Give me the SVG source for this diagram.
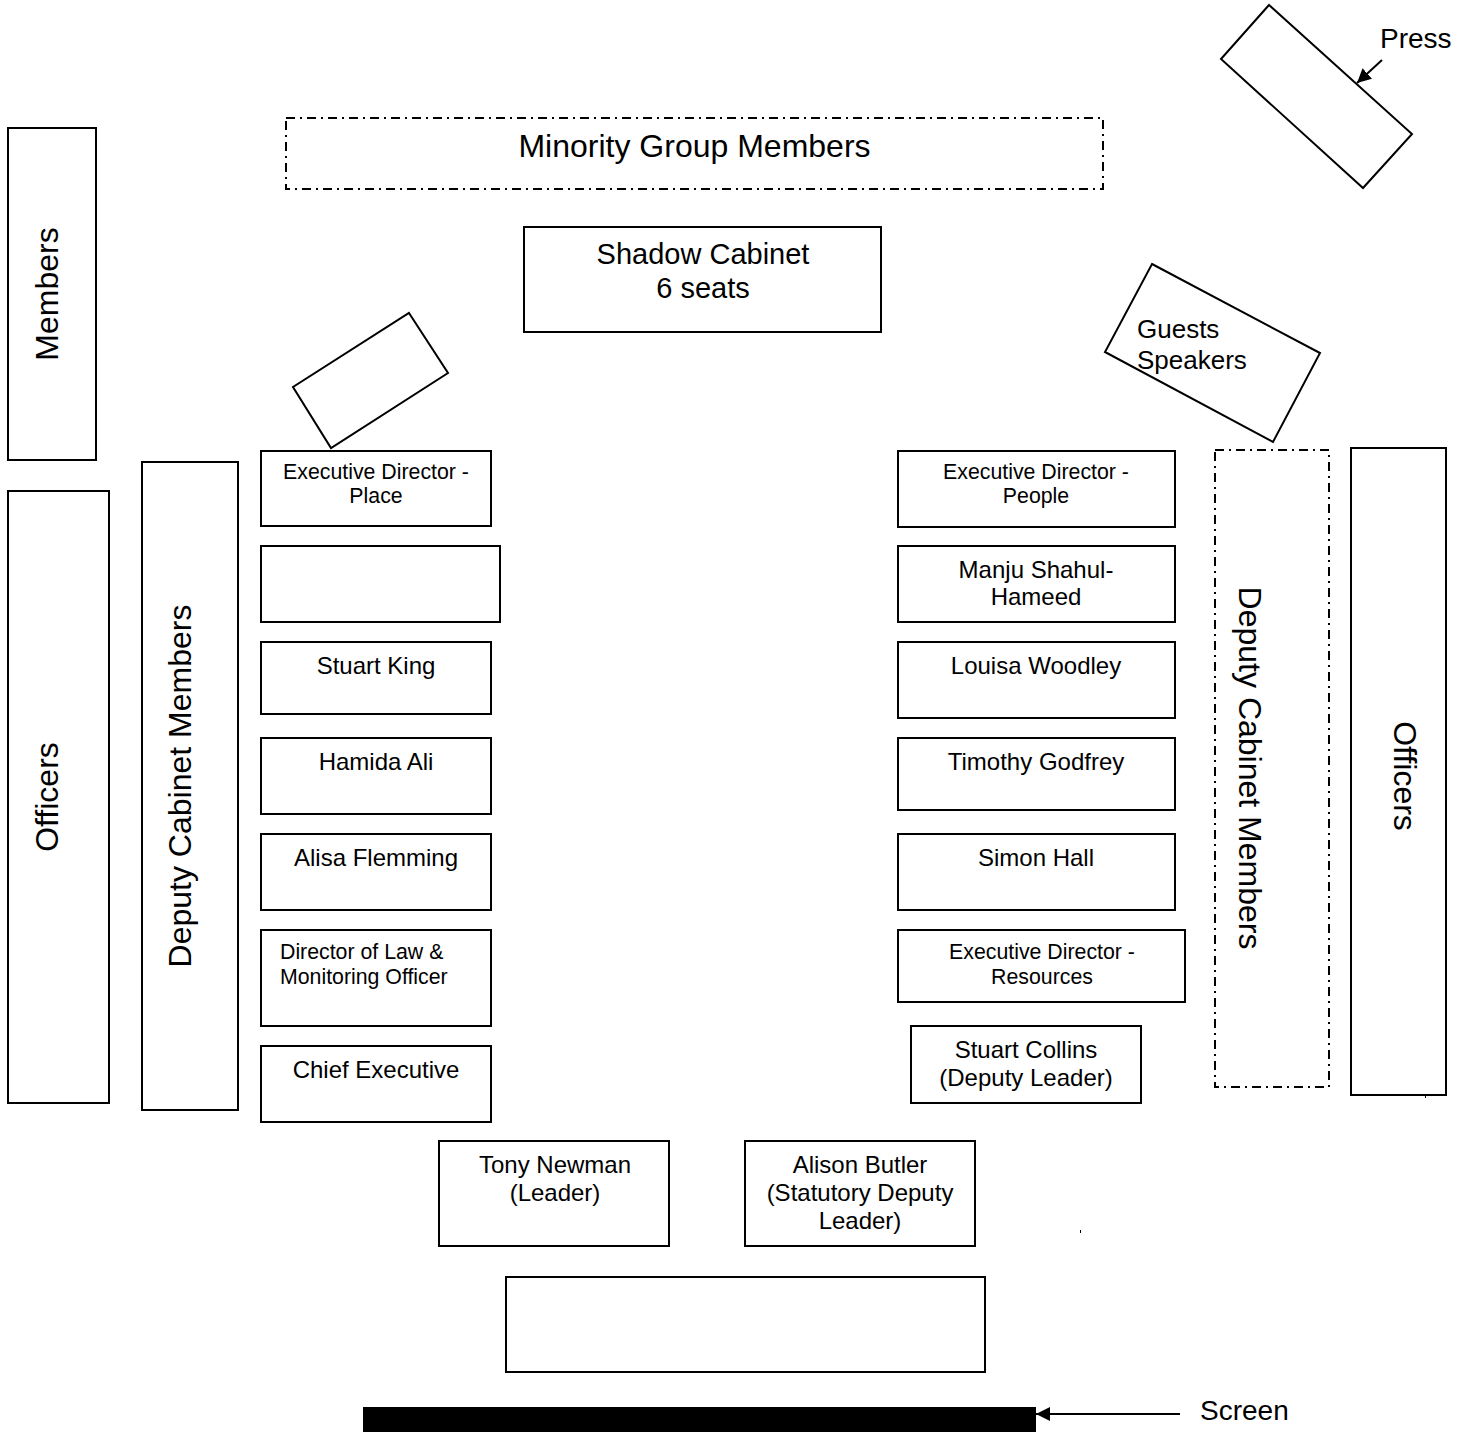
<svg xmlns="http://www.w3.org/2000/svg" width="1472" height="1432" viewBox="0 0 1472 1432">
<style>
.box{fill:#fff;stroke:#000;stroke-width:2}
.dash{fill:none;stroke:#000;stroke-width:2;stroke-dasharray:9,5,2,5}
text{font-family:"Liberation Sans",Arial,sans-serif;fill:#000}
.t32{font-size:32px}
.t29{font-size:29px}
.t28{font-size:28px}
.t26{font-size:26px}
.t24{font-size:24px}
.t21{font-size:21.3px}
.c{text-anchor:middle}
.conn{stroke:#000;stroke-width:2;fill:none}
</style>
<defs>
<marker id="ah" markerUnits="userSpaceOnUse" markerWidth="16" markerHeight="14" refX="14" refY="7" orient="auto">
<path d="M0,0 L14,7 L0,14 Z" fill="#000"/>
</marker>
</defs>
<rect width="1472" height="1432" fill="#fff"/>

<g id="press">
<polygon class="box" points="1269,5 1412,134 1363,188 1221,59"/>
<text class="t28" x="1380" y="48">Press</text>
</g>
<g id="minority">
<rect class="dash" x="286" y="118" width="817" height="71"/>
<text class="t32 c" x="694.5" y="157">Minority Group Members</text>
</g>
<g id="shadow">
<rect class="box" x="524" y="227" width="357" height="105"/>
<text class="t29 c" x="703" y="264">Shadow Cabinet</text>
<text class="t29 c" x="703" y="298">6 seats</text>
</g>
<g id="members">
<rect class="box" x="8" y="128" width="88" height="332"/>
<text class="t32 c" transform="translate(47,294) rotate(-90)" x="0" y="11">Members</text>
</g>
<g id="officers-left">
<rect class="box" x="8" y="491" width="101" height="612"/>
<text class="t32 c" transform="translate(47,797) rotate(-90)" x="0" y="11">Officers</text>
</g>
<g id="deputy-left">
<rect class="box" x="142" y="462" width="96" height="648"/>
<text class="t32 c" transform="translate(180,786) rotate(-90)" x="0" y="11">Deputy Cabinet Members</text>
</g>
<g id="left-angled">
<polygon class="box" points="409,313 448,373 331,448 293,387"/>
</g>
<g id="guests">
<polygon class="box" points="1152,264 1320,353 1273,442 1105,352"/>
<text class="t26" x="1137" y="338">Guests</text>
<text class="t26" x="1137" y="369">Speakers</text>
</g>
<g id="deputy-right">
<rect class="dash" x="1215" y="450" width="114" height="637"/>
<text class="t32 c" transform="translate(1250,768) rotate(90)" x="0" y="11">Deputy Cabinet Members</text>
</g>
<g id="officers-right">
<rect class="box" x="1351" y="448" width="95" height="647"/>
<text class="t32 c" transform="translate(1405,776) rotate(90)" x="0" y="11">Officers</text>
<rect x="1425" y="1095" width="1" height="3" fill="#000"/>
</g>

<g id="ed-place">
<rect class="box" x="261" y="451" width="230" height="75"/>
<text class="t21 c" x="376" y="479">Executive Director -</text>
<text class="t21 c" x="376" y="503">Place</text>
</g>
<g id="empty-left">
<rect class="box" x="261" y="546" width="239" height="76"/>
</g>
<g id="stuart-king">
<rect class="box" x="261" y="642" width="230" height="72"/>
<text class="t24 c" x="376" y="674">Stuart King</text>
</g>
<g id="hamida-ali">
<rect class="box" x="261" y="738" width="230" height="76"/>
<text class="t24 c" x="376" y="770">Hamida Ali</text>
</g>
<g id="alisa-flemming">
<rect class="box" x="261" y="834" width="230" height="76"/>
<text class="t24 c" x="376" y="866">Alisa Flemming</text>
</g>
<g id="director-law">
<rect class="box" x="261" y="930" width="230" height="96"/>
<text class="t21" x="280" y="959">Director of Law &amp;</text>
<text class="t21" x="280" y="984">Monitoring Officer</text>
</g>
<g id="chief-exec">
<rect class="box" x="261" y="1046" width="230" height="76"/>
<text class="t24 c" x="376" y="1078">Chief Executive</text>
</g>

<g id="ed-people">
<rect class="box" x="898" y="451" width="277" height="76"/>
<text class="t21 c" x="1036" y="479">Executive Director -</text>
<text class="t21 c" x="1036" y="503">People</text>
</g>
<g id="manju">
<rect class="box" x="898" y="546" width="277" height="76"/>
<text class="t24 c" x="1036" y="578">Manju Shahul-</text>
<text class="t24 c" x="1036" y="605">Hameed</text>
</g>
<g id="louisa">
<rect class="box" x="898" y="642" width="277" height="76"/>
<text class="t24 c" x="1036" y="674">Louisa Woodley</text>
</g>
<g id="timothy">
<rect class="box" x="898" y="738" width="277" height="72"/>
<text class="t24 c" x="1036" y="770">Timothy Godfrey</text>
</g>
<g id="simon">
<rect class="box" x="898" y="834" width="277" height="76"/>
<text class="t24 c" x="1036" y="866">Simon Hall</text>
</g>
<g id="ed-resources">
<rect class="box" x="898" y="930" width="287" height="72"/>
<text class="t21 c" x="1042" y="959">Executive Director -</text>
<text class="t21 c" x="1042" y="984">Resources</text>
</g>
<g id="stuart-collins">
<rect class="box" x="911" y="1026" width="230" height="77"/>
<text class="t24 c" x="1026" y="1058">Stuart Collins</text>
<text class="t24 c" x="1026" y="1086">(Deputy Leader)</text>
</g>

<g id="tony-newman">
<rect class="box" x="439" y="1141" width="230" height="105"/>
<text class="t24 c" x="555" y="1173">Tony Newman</text>
<text class="t24 c" x="555" y="1201">(Leader)</text>
</g>
<g id="alison-butler">
<rect class="box" x="745" y="1141" width="230" height="105"/>
<text class="t24 c" x="860" y="1173">Alison Butler</text>
<text class="t24 c" x="860" y="1201">(Statutory Deputy</text>
<text class="t24 c" x="860" y="1229">Leader)</text>
</g>
<g id="bottom-table">
<rect class="box" x="506" y="1277" width="479" height="95"/>
</g>
<g id="screen">
<rect x="363" y="1407" width="673" height="25" fill="#000"/>
<text class="t28" x="1200" y="1420">Screen</text>
</g>
<rect x="1080" y="1230" width="1" height="3" fill="#000"/>

<g id="connectors">
<line class="conn" x1="1382" y1="60" x2="1357" y2="83" marker-end="url(#ah)"/>
<line class="conn" x1="1180" y1="1414" x2="1036" y2="1414" marker-end="url(#ah)"/>
</g>
</svg>
